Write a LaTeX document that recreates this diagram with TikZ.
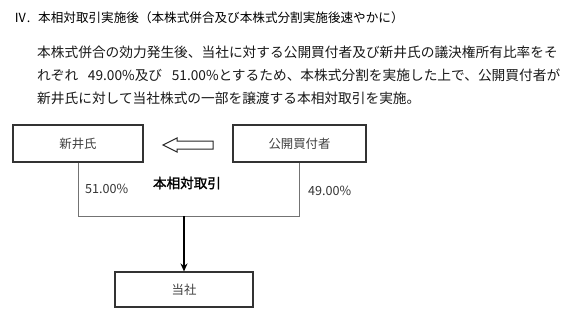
\documentclass[tikz,border=0pt]{standalone}
\usepackage{fontspec}
\usetikzlibrary{arrows.meta}
\setmainfont{Noto Sans CJK JP}
\newfontfamily\gothicbold{Noto Sans CJK JP}[FakeBold=1.5]
\begin{document}
\begin{tikzpicture}[x=1pt,y=-1pt,
  txt/.style={inner sep=0pt,anchor=west,font=\fontsize{12.6}{14}\selectfont},
  bodyl/.style={inner sep=0pt,anchor=west,font=\fontsize{13.7}{15}\selectfont,text=black!90},
  boxn/.style={draw=black!80,line width=1.1pt,inner sep=0pt,font=\fontsize{12.4}{14}\selectfont,text=black!75},
  conn/.style={draw=black!55,line width=0.8pt},
  pct/.style={inner sep=0pt,anchor=west,font=\fontsize{12.6}{14}\selectfont,text=black!80}]
\useasboundingbox (0,0) rectangle (572,321);
\fill[white] (0,0) rectangle (572,321);
\node[txt] (title) at (14,18) {Ⅳ.};
\node[txt] (titletext) at (38,18) {本相対取引実施後（本株式併合及び本株式分割実施後速やかに）};
\node[bodyl] (l1) at (37,52) {本株式併合の効力発生後、当社に対する公開買付者及び新井氏の議決権所有比率をそ};
\node[bodyl] (l2) at (37,75) {\makebox[523pt][s]{れぞれ 49.00\%及び 51.00\%とするため、本株式分割を実施した上で、公開買付者が}};
\node[bodyl] (l3) at (37,98) {新井氏に対して当社株式の一部を譲渡する本相対取引を実施。};

\node[boxn,minimum width=130pt,minimum height=37pt] (arai) at (78,143.5) {新井氏};
\node[boxn,minimum width=133pt,minimum height=37pt] (kokai) at (299.5,143.5) {公開買付者};
\node[boxn,minimum width=138pt,minimum height=35pt] (tosha) at (184,289.5) {当社};

\draw[black!85,line width=1pt,line join=miter] (163,145) -- (177,138) -- (177,141) -- (213,141) -- (213,149) -- (177,149) -- (177,152) -- cycle;

\coordinate (j) at (184,216);
\draw[conn] (arai.south) -- (78,216) -| (kokai.south);
\draw[line width=1.4pt,-{Stealth[length=8pt,width=7pt]}] (j) -- (tosha.north);

\node[pct] (p51) at (85,189) {51.00\%};
\node[inner sep=0pt,font=\gothicbold\fontsize{13.6}{14}\selectfont] (deal) at (187,183) {本相対取引};
\node[pct] (p49) at (308,191) {49.00\%};
\end{tikzpicture}
\end{document}
